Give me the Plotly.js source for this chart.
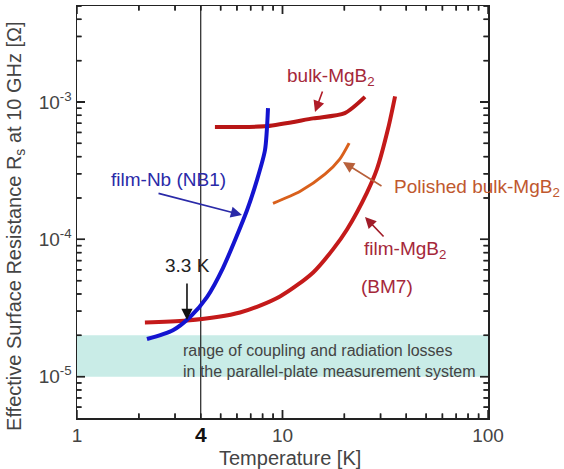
<!DOCTYPE html>
<html>
<head>
<meta charset="utf-8">
<script src="https://cdn.plot.ly/plotly-3.0.1.min.js"></script>
<style>html,body{margin:0;padding:0;background:#fff;}#chart{width:564px;height:469px;}</style>
</head>
<body>
<div id="chart"></div>
<script>
// Temperature [K] and Rs [Ohm]
const nbT   = [2.19, 2.93, 3.55, 4.29, 5.13, 6.72, 7.51, 8.22, 8.50];
const nbRs  = [1.88e-5, 2.18e-5, 2.72e-5, 3.80e-5, 6.18e-5, 1.63e-4, 2.70e-4, 4.47e-4, 9.03e-4];

const filmT  = [2.14, 3.43, 6.21, 9.72, 14.1, 17.6, 20.6, 25.8, 28.8, 32.6, 35.3];
const filmRs = [2.48e-5, 2.56e-5, 2.93e-5, 3.84e-5, 5.74e-5, 8.45e-5, 1.18e-4, 2.2e-4, 3.24e-4, 6.35e-4, 1.1e-3];

const bulkT  = [4.69, 8.41, 14.1, 20.1, 25.2];
const bulkRs = [6.57e-4, 6.68e-4, 7.6e-4, 8.3e-4, 1.09e-3];

const polT  = [8.99, 12.2, 16.1, 19.0, 21.1];
const polRs = [1.83e-4, 2.24e-4, 2.98e-4, 3.84e-4, 5.02e-4];

const bandT  = [1, 100, 100, 1];
const bandRs = [1e-5, 1e-5, 2e-5, 2e-5];

const markT = [4, 4];

const xTicks = [1, 10, 100];
const xTickText = ['1', '10', '100'];
const yTicks = [1e-5, 1e-4, 1e-3];
const yTickText = ['10<sup>-5</sup>', '10<sup>-4</sup>', '10<sup>-3</sup>'];

const xMinor = [];
[1, 10].forEach(d => { for (let k = 2; k <= 9; k++) xMinor.push(k * d); });
const yMinor = [6e-6, 7e-6, 8e-6, 9e-6];
[1e-5, 1e-4, 1e-3].forEach(d => { for (let k = 2; k <= 9; k++) if (k * d <= 5e-3) yMinor.push(k * d); });

const FONT = 'Liberation Sans, Arial, sans-serif';
const W = 564, H = 469, M = {l: 77, r: 76, t: 6, b: 51};
const PW = W - M.l - M.r, PH = H - M.t - M.b;
const XR = [0, 2];
const YR = [Math.log10(5e-6), Math.log10(5e-3)];
const xLo = Math.pow(10, XR[0]), xHi = Math.pow(10, XR[1]);
const yLo = Math.pow(10, YR[0]), yHi = Math.pow(10, YR[1]);
const markRs = [yLo, yHi];

// inside tick marks as short line segments on the frame
function ticksX(vals, len) {
  const dy = len / PH * (YR[1] - YR[0]);
  const x = [], y = [];
  vals.forEach(v => {
    x.push(v, v, null, v, v, null);
    y.push(yLo, Math.pow(10, YR[0] + dy), null, yHi, Math.pow(10, YR[1] - dy), null);
  });
  return {x: x, y: y, mode: 'lines', line: {color: '#222', width: 1.5}, hoverinfo: 'skip', connectgaps: false};
}
function ticksY(vals, len) {
  const dx = len / PW * (XR[1] - XR[0]);
  const x = [], y = [];
  vals.forEach(v => {
    y.push(v, v, null, v, v, null);
    x.push(xLo, Math.pow(10, XR[0] + dx), null, xHi, Math.pow(10, XR[1] - dx), null);
  });
  return {x: x, y: y, mode: 'lines', line: {color: '#222', width: 1.5}, hoverinfo: 'skip', connectgaps: false};
}
// same ticks as layout shapes (in case trace segments are not shown)
function shapeTicksX(vals, len) {
  const out = [];
  vals.forEach(v => {
    const p = (Math.log10(v) - XR[0]) / (XR[1] - XR[0]);
    out.push({type: 'line', xref: 'paper', yref: 'paper', x0: p, x1: p, y0: 0, y1: len / PH, line: {color: '#222', width: 1.4}, layer: 'above'});
    out.push({type: 'line', xref: 'paper', yref: 'paper', x0: p, x1: p, y0: 1, y1: 1 - len / PH, line: {color: '#222', width: 1.4}, layer: 'above'});
  });
  return out;
}
function shapeTicksY(vals, len) {
  const out = [];
  vals.forEach(v => {
    const p = (Math.log10(v) - YR[0]) / (YR[1] - YR[0]);
    out.push({type: 'line', xref: 'paper', yref: 'paper', y0: p, y1: p, x0: 0, x1: len / PW, line: {color: '#222', width: 1.4}, layer: 'above'});
    out.push({type: 'line', xref: 'paper', yref: 'paper', y0: p, y1: p, x0: 1, x1: 1 - len / PW, line: {color: '#222', width: 1.4}, layer: 'above'});
  });
  return out;
}

const traces = [
  {x: bandT, y: bandRs, mode: 'lines', fill: 'toself', fillcolor: '#c9ece7', line: {width: 0, color: '#c9ece7'}, hoverinfo: 'skip'},
  ticksX(xTicks, 8),
  ticksX(xMinor, 4.5),
  ticksY(yTicks, 8),
  ticksY(yMinor, 4.5),
  {x: markT, y: markRs, mode: 'lines', line: {color: '#222', width: 1.2}},
  {x: filmT, y: filmRs, mode: 'lines', line: {color: '#c41a1a', width: 4, shape: 'spline', smoothing: 0.8}},
  {x: bulkT, y: bulkRs, mode: 'lines', line: {color: '#b81616', width: 4, shape: 'spline', smoothing: 0.7}},
  {x: polT, y: polRs, mode: 'lines', line: {color: '#d9601c', width: 3, shape: 'spline', smoothing: 0.7}},
  {x: nbT, y: nbRs, mode: 'lines', line: {color: '#1414d0', width: 4, shape: 'spline', smoothing: 0.7}}
];

function arrow(x, y, ax, ay, color) {
  return {xref: 'paper', yref: 'paper', x: x, y: y, ax: ax, ay: ay, text: '', showarrow: true,
          arrowhead: 2, arrowsize: 1.4, arrowwidth: 1.6, arrowcolor: color, standoff: 0, startstandoff: 0};
}
function label(x, y, text, color, size, anchor) {
  return {xref: 'paper', yref: 'paper', x: x, y: y, text: text, showarrow: false,
          xanchor: anchor || 'center', yanchor: 'middle', font: {family: FONT, size: size || 19, color: color}};
}

const annotations = [
  label(0.2238, 0.5777, 'film-Nb (NB1)', '#2a2aa8', 19),
  arrow(0.4015, 0.4927, -85, -22, '#2a2aa8'),
  label(0.270, 0.371, '3.3 K', '#222', 19),
  arrow(0.2676, 0.2379, 0, -38, '#111'),
  label(0.618, 0.828, 'bulk-MgB<sub>2</sub>', '#a5283a', 19),
  arrow(0.5791, 0.7427, 8, -22, '#b01c28'),
  label(0.973, 0.558, 'Polished bulk-MgB<sub>2</sub>', '#c0582e', 19),
  arrow(0.6472, 0.6214, 40, 25, '#b8603a'),
  label(0.798, 0.408, 'film-MgB<sub>2</sub>', '#a5283a', 19),
  label(0.754, 0.318, '(BM7)', '#a5283a', 19),
  arrow(0.7007, 0.4879, 20, 21, '#a01c28'),
  {xref: 'paper', yref: 'paper', x: 0.252, y: 0.138, xanchor: 'left', yanchor: 'middle', align: 'left', showarrow: false,
   text: 'range of coupling and radiation losses<br>in the parallel-plate measurement system',
   font: {family: FONT, size: 16, color: '#444'}},
  {xref: 'x', yref: 'paper', x: Math.log10(4), y: -0.041, yanchor: 'middle', showarrow: false,
   text: '<b>4</b>', font: {family: FONT, size: 21, color: '#111'}},
  {xref: 'paper', yref: 'paper', x: -0.151, y: 0.466, textangle: -90, showarrow: false, xanchor: 'center', yanchor: 'middle',
   text: 'Effective Surface Resistance R<sub>s</sub> at 10 GHz [\u03A9]', font: {family: FONT, size: 20, color: '#444'}},
  {xref: 'paper', yref: 'paper', x: 0.518, y: -0.097, yanchor: 'middle', showarrow: false,
   text: 'Temperature [K]', font: {family: FONT, size: 20, color: '#444'}}
];

const layout = {
  width: W, height: H,
  margin: M,
  paper_bgcolor: '#fff', plot_bgcolor: '#fff',
  showlegend: false,
  font: {family: FONT, size: 19, color: '#444'},
  xaxis: {type: 'log', range: XR, tickmode: 'array', tickvals: xTicks, ticktext: xTickText,
          ticks: 'inside', ticklen: 8, tickwidth: 1.3, tickcolor: '#222',
          showline: true, linecolor: '#222', linewidth: 1.5, mirror: 'ticks', showgrid: false, zeroline: false,
          tickfont: {family: FONT, size: 19, color: '#444'}},
  yaxis: {type: 'log', range: YR, tickmode: 'array', tickvals: yTicks, ticktext: yTickText,
          ticks: 'inside', ticklen: 8, tickwidth: 1.3, tickcolor: '#222',
          showline: true, linecolor: '#222', linewidth: 1.5, mirror: 'ticks', showgrid: false, zeroline: false,
          tickfont: {family: FONT, size: 19, color: '#444'}},
  shapes: shapeTicksX(xTicks.slice(1, 2), 8).concat(shapeTicksX(xMinor, 4.5), shapeTicksY(yTicks, 8), shapeTicksY(yMinor, 4.5)),
  annotations: annotations
};

Plotly.newPlot('chart', traces, layout, {displayModeBar: false, staticPlot: true});
</script>
</body>
</html>
